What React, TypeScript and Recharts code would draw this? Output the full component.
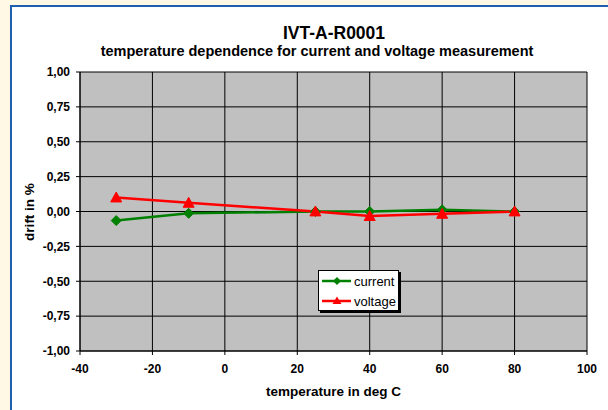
import React from "react";
import { LineChart, Line, XAxis, YAxis, CartesianGrid, Legend } from "recharts";

const temperatures = [-30, -10, 25, 40, 60, 80];
const currentDrift = [-0.065, -0.013, 0.0, 0.0, 0.012, 0.0];
const voltageDrift = [0.1, 0.062, 0.0, -0.033, -0.017, 0.0];
const xTicks = [-40, -20, 0, 20, 40, 60, 80, 100];
const yTicks = [-1, -0.75, -0.5, -0.25, 0, 0.25, 0.5, 0.75, 1];

const data = temperatures.map((t, i) => ({
  t,
  current: currentDrift[i],
  voltage: voltageDrift[i],
}));

const FONT = "'Liberation Sans', Arial, sans-serif";
const GREEN = "#008000";
const RED = "#FF0000";

const fmt = (v: number) => v.toFixed(2).replace(".", ",");

const Diamond = (props: any) => {
  const { cx, cy } = props;
  if (cx == null || cy == null) return null;
  const r = 5;
  return (
    <path
      d={`M${cx},${cy - r} L${cx + r},${cy} L${cx},${cy + r} L${cx - r},${cy} Z`}
      fill={GREEN}
      stroke={GREEN}
    />
  );
};

const Triangle = (props: any) => {
  const { cx, cy } = props;
  if (cx == null || cy == null) return null;
  const r = 5.5;
  return (
    <path
      d={`M${cx},${cy - r} L${cx + r},${cy + r * 0.8} L${cx - r},${cy + r * 0.8} Z`}
      fill={RED}
      stroke={RED}
    />
  );
};

const LegendBox = () => (
  <div
    style={{
      background: "#fff",
      border: "1px solid #000",
      boxShadow: "2px 2px 0 #000",
      width: 81,
      height: 41,
      boxSizing: "border-box",
      padding: "0 0 0 2px",
      fontFamily: FONT,
      fontSize: 13,
      color: "#000",
    }}
  >
    {[
      { name: "current", color: GREEN, kind: "d" },
      { name: "voltage", color: RED, kind: "t" },
    ].map((it) => (
      <div key={it.name} style={{ display: "flex", alignItems: "center", height: 20 }}>
        <svg width={31} height={12} style={{ marginRight: 2 }}>
          <line x1={1} y1={6} x2={30} y2={6} stroke={it.color} strokeWidth={2.5} />
          {it.kind === "d" ? (
            <path d="M16,2 L20,6 L16,10 L12,6 Z" fill={it.color} />
          ) : (
            <path d="M16,1.5 L20.5,9 L11.5,9 Z" fill={it.color} />
          )}
        </svg>
        <span>{it.name}</span>
      </div>
    ))}
  </div>
);

const textBase = {
  position: "absolute" as const,
  fontFamily: FONT,
  fontWeight: "bold" as const,
  color: "#000",
  whiteSpace: "nowrap" as const,
  lineHeight: 1,
};

export default function App() {
  return (
    <div
      style={{
        position: "absolute",
        left: 0,
        top: 0,
        width: 608,
        height: 410,
        background: "#FFF8E4",
        overflow: "hidden",
      }}
    >
      <div
        style={{
          position: "absolute",
          left: 10,
          top: 5,
          width: 620,
          height: 403,
          border: "2px solid #1F5FAF",
          background: "#fff",
        }}
      />
      <div style={{ ...textBase, left: 334, top: 33.5, fontSize: 17.5, transform: "translate(-50%, -50%)" }}>
        IVT-A-R0001
      </div>
      <div style={{ ...textBase, left: 317, top: 51, fontSize: 14.5, transform: "translate(-50%, -50%)" }}>
        temperature dependence for current and voltage measurement
      </div>
      <div style={{ ...textBase, left: 333.5, top: 392, fontSize: 13.5, transform: "translate(-50%, -50%)" }}>
        temperature in deg C
      </div>
      <div
        style={{
          ...textBase,
          left: 30,
          top: 211.5,
          fontSize: 13.5,
          transform: "translate(-50%, -50%) rotate(-90deg)",
        }}
      >
        drift in %
      </div>
      <div style={{ position: "absolute", left: 0, top: 0 }}>
        <LineChart
          width={608}
          height={410}
          data={data}
          margin={{ top: 72, right: 21, bottom: 0, left: 30 }}
        >
          <CartesianGrid stroke="#000" strokeWidth={1} fill="#C0C0C0" fillOpacity={1} />
          <XAxis
            dataKey="t"
            type="number"
            domain={[-40, 100]}
            ticks={xTicks}
            interval={0}
            stroke="#000"
            tickSize={4}
            tickMargin={9}
            height={59}
            tick={{ fill: "#000", fontFamily: FONT, fontWeight: "bold", fontSize: 12 }}
          />
          <YAxis
            type="number"
            domain={[-1, 1]}
            ticks={yTicks}
            interval={0}
            width={50}
            stroke="#000"
            tickSize={4}
            tickMargin={6}
            tickFormatter={fmt}
            tick={{ fill: "#000", fontFamily: FONT, fontWeight: "bold", fontSize: 12 }}
          />
          <Legend
            layout="horizontal"
            verticalAlign="middle"
            align="center"
            content={<LegendBox />}
            wrapperStyle={{ position: "absolute", left: 318, top: 270, width: 84, height: 44 }}
          />
          <Line
            dataKey="current"
            name="current"
            stroke={GREEN}
            strokeWidth={2.5}
            dot={<Diamond />}
            activeDot={false}
            isAnimationActive={false}
          />
          <Line
            dataKey="voltage"
            name="voltage"
            stroke={RED}
            strokeWidth={2.5}
            dot={<Triangle />}
            activeDot={false}
            isAnimationActive={false}
          />
        </LineChart>
      </div>
    </div>
  );
}
